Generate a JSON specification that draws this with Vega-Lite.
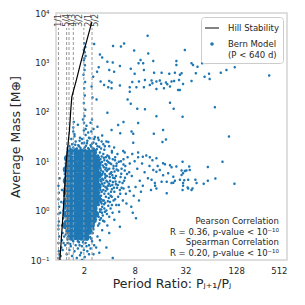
{
 "$schema": "https://vega.github.io/schema/vega-lite/v6.json",
 "width": 231, "height": 247,
 "autosize": {"type": "none"},
 "padding": {"left": 56, "top": 13, "right": 18, "bottom": 45},
 "config": {
  "font": "DejaVu Sans",
  "view": {"stroke": "#d4d4d4", "strokeWidth": 1.5},
  "axis": {"domain": false, "ticks": false, "grid": false, "labelFontSize": 8.5, "labelColor": "#262626", "titleFontSize": 12.5, "titleFontWeight": "normal", "titleColor": "#262626"},
  "legend": {"title": null, "orient": "top-right", "offset": 4, "fillColor": "#ffffff", "strokeColor": "#cccccc", "cornerRadius": 3, "padding": 4,
        "labelFontSize": 8.5, "labelColor": "#262626", "labelOffset": 9, "rowPadding": 4, "labelLimit": 200, "symbolSize": 196, "symbolStrokeWidth": 0, "symbolOpacity": 1}
 },
 "datasets": {
  "pts": [
   {"p":2.65,"m":2350},{"p":4.44,"m":2140},{"p":5.5,"m":2100},{"p":6.0,"m":2400},{"p":11.4,"m":3470},{"p":7.9,"m":1740},{"p":11.6,"m":1510},{"p":3.1,"m":1440},{"p":3.3,"m":1250},{"p":3.8,"m":1030},{"p":4.4,"m":1000},{"p":5.35,"m":850},{"p":9.4,"m":1120},{"p":8.9,"m":960},{"p":10.1,"m":960},{"p":25,"m":1070},{"p":25,"m":890},{"p":3.0,"m":800},{"p":4.0,"m":700},{"p":4.57,"m":650},{"p":7.2,"m":740},{"p":8.0,"m":590},{"p":10.3,"m":700},{"p":13.6,"m":615},{"p":16.7,"m":615},{"p":20.6,"m":590},{"p":24,"m":615},{"p":27.5,"m":560},{"p":2.87,"m":650},{"p":2.58,"m":510},{"p":3.16,"m":410},{"p":3.48,"m":350},{"p":4.0,"m":420},{"p":4.26,"m":390},{"p":3.89,"m":315},{"p":4.26,"m":300},{"p":5.35,"m":340},{"p":7.5,"m":400},{"p":9.0,"m":410},{"p":10.6,"m":440},{"p":12.7,"m":430},{"p":14.5,"m":410},{"p":15.9,"m":430},{"p":18.8,"m":390},{"p":21.9,"m":410},{"p":26.9,"m":440},{"p":7.0,"m":315},{"p":8.4,"m":315},{"p":10.3,"m":315},{"p":12.1,"m":350},{"p":14.5,"m":290},{"p":21,"m":325},{"p":26.2,"m":275},{"p":7,"m":255},{"p":2.47,"m":325},{"p":2.53,"m":195},{"p":2.83,"m":178},{"p":6.6,"m":178},{"p":7.2,"m":145},{"p":8.6,"m":115},{"p":10.6,"m":112},{"p":21,"m":152},{"p":23.2,"m":115},
   {"p":31.5,"m":1780},{"p":37.8,"m":960},{"p":39.4,"m":890},{"p":44.5,"m":820},{"p":50.6,"m":960},{"p":42.5,"m":605},{"p":54,"m":510},{"p":61,"m":590},{"p":62,"m":460},{"p":84,"m":615},{"p":98,"m":700},{"p":123,"m":800},{"p":315,"m":540},{"p":28.8,"m":605},{"p":30,"m":365},{"p":37.8,"m":420},{"p":27.5,"m":275},{"p":71.5,"m":123},
   {"p":13.3,"m":1070},{"p":13,"m":380},{"p":16.5,"m":370},{"p":19.5,"m":360},{"p":23.5,"m":420},{"p":17.8,"m":300},
   {"p":2.02,"m":2450},{"p":2.08,"m":2040},{"p":2.0,"m":1800},{"p":2.05,"m":1600},{"p":2.1,"m":1350},{"p":2.03,"m":1200},{"p":2.0,"m":1100},{"p":2.06,"m":880},{"p":2.04,"m":700},{"p":1.98,"m":560},{"p":2.07,"m":400},{"p":2.02,"m":300},{"p":2.05,"m":215},{"p":2.0,"m":150},{"p":2.08,"m":110},{"p":2.04,"m":82},{"p":2.01,"m":60},{"p":2.1,"m":45},{"p":1.52,"m":62},{"p":1.5,"m":48},{"p":1.55,"m":35},{"p":2.5,"m":70},{"p":2.45,"m":40},{"p":2.3,"m":30},{"p":1.9,"m":28},
   {"p":3.8,"m":96},{"p":14.5,"m":81},{"p":5.9,"m":62},{"p":5.1,"m":54},{"p":8.8,"m":59},{"p":4.26,"m":43},{"p":5.4,"m":37},{"p":7.35,"m":40},{"p":7.7,"m":36},{"p":13.5,"m":36},{"p":17.4,"m":43},{"p":17.1,"m":24.5},{"p":18.8,"m":27.5},{"p":7.7,"m":23.5},{"p":3.9,"m":24.5},{"p":4.57,"m":19},{"p":5.86,"m":16},{"p":6.1,"m":15},{"p":8.8,"m":15},{"p":10,"m":12.3},{"p":12.1,"m":12},{"p":14.5,"m":11.5},{"p":18.3,"m":8.7},{"p":21,"m":8.3},{"p":25,"m":7.8},{"p":28.8,"m":6.5},{"p":32.9,"m":6.5},{"p":34.5,"m":4.2},{"p":27.5,"m":4.2},{"p":23,"m":3.65},
   {"p":29.6,"m":79},{"p":105,"m":31.6},{"p":29.6,"m":9.8},{"p":88,"m":9.8},{"p":35.5,"m":7.8},{"p":59,"m":7.6},{"p":31.5,"m":6.3},{"p":36,"m":6.6},{"p":28.8,"m":5.25},{"p":31,"m":4.1},{"p":42,"m":4.2},{"p":59,"m":4.0},{"p":72.5,"m":4.45},{"p":52.7,"m":3.5},{"p":122,"m":3.5},{"p":30,"m":3.2},{"p":34,"m":2.95},{"p":38.8,"m":2.8},
   {"p":17.4,"m":9.1},{"p":21.9,"m":7.5},{"p":13.3,"m":6.6},{"p":14.5,"m":6.1},{"p":15.9,"m":6.6},{"p":17.4,"m":5.2},{"p":20,"m":5.7},{"p":23,"m":4.85},{"p":12.7,"m":4.2},{"p":13.9,"m":3.6},{"p":16.7,"m":3.85},{"p":19.2,"m":3.85},{"p":21.9,"m":3.6},{"p":24,"m":4.0},{"p":14.5,"m":2.8},{"p":19.2,"m":2.24},{"p":30,"m":5.7},{"p":30,"m":3.6},{"p":34.5,"m":2.8},{"p":37.8,"m":2.6},{"p":29.6,"m":2.6},{"p":43.4,"m":3.6},
   {"p":1.45,"m":22},{"p":1.6,"m":25},{"p":1.75,"m":20},{"p":1.9,"m":23},{"p":2.05,"m":19},{"p":2.2,"m":26},{"p":2.4,"m":21},{"p":2.6,"m":24},{"p":2.9,"m":20},{"p":3.2,"m":18},{"p":1.55,"m":32},{"p":1.8,"m":30},{"p":2.1,"m":34},{"p":2.35,"m":29},{"p":2.7,"m":31},{"p":3.0,"m":27},{"p":3.4,"m":22},{"p":3.7,"m":25},{"p":1.5,"m":40},{"p":2.0,"m":42},{"p":2.25,"m":38},{"p":2.6,"m":45},{"p":3.3,"m":33},{"p":1.7,"m":55},{"p":2.15,"m":52},{"p":2.9,"m":50},{"p":1.95,"m":70},{"p":2.4,"m":60},{"p":3.5,"m":17},{"p":4.0,"m":20},{"p":4.3,"m":16},{"p":1.38,"m":18},{"p":1.3,"m":16},{"p":1.42,"m":28},{"p":2.55,"m":18},{"p":2.75,"m":16.5},{"p":3.1,"m":15},{"p":1.65,"m":18},{"p":1.85,"m":17},{"p":2.3,"m":17.5},
   {"p":1.4,"m":17},{"p":1.5,"m":19},{"p":1.62,"m":17.5},{"p":1.72,"m":21},{"p":1.82,"m":18.8},{"p":1.98,"m":17.2},{"p":2.12,"m":20.5},{"p":2.25,"m":18.2},{"p":2.45,"m":19.5},{"p":2.62,"m":17.8},{"p":2.85,"m":17.5},{"p":1.58,"m":21.5},{"p":2.02,"m":23.5},{"p":2.5,"m":22.5},{"p":1.35,"m":20},{"p":1.78,"m":26},{"p":2.18,"m":23},
   {"p":2.8,"m":22.5},{"p":3.05,"m":19.5},{"p":3.25,"m":25},{"p":2.95,"m":30},{"p":3.55,"m":20},{"p":2.65,"m":28},
   {"p":3.0,"m":12},{"p":3.1,"m":9},{"p":3.2,"m":6.5},{"p":3.05,"m":4.8},{"p":3.3,"m":3.5},{"p":3.15,"m":2.6},{"p":3.0,"m":1.9},{"p":3.25,"m":1.4},{"p":3.1,"m":1.05},{"p":3.35,"m":0.8},{"p":3.4,"m":14},{"p":3.5,"m":10.5},{"p":3.45,"m":7.5},{"p":3.55,"m":5.5},{"p":3.4,"m":4.2},{"p":3.6,"m":3.0},{"p":3.5,"m":2.2},{"p":3.45,"m":1.6},{"p":3.3,"m":1.2},{"p":3.55,"m":0.95},{"p":3.2,"m":0.7},{"p":3.05,"m":0.55},{"p":3.15,"m":11},{"p":3.35,"m":8.2},{"p":3.25,"m":5.2},{"p":3.6,"m":6.8},{"p":3.0,"m":3.1},{"p":3.4,"m":2.6},{"p":3.2,"m":1.7},{"p":3.0,"m":7.5},
   {"p":3.02,"m":10.5},{"p":3.12,"m":5.8},{"p":3.05,"m":2.3},{"p":3.18,"m":1.5},{"p":3.0,"m":0.75},{"p":3.28,"m":9.6},{"p":3.38,"m":6.1},{"p":3.22,"m":3.9},{"p":3.42,"m":3.2},{"p":3.26,"m":2.4},{"p":3.48,"m":1.35},{"p":3.12,"m":0.95},{"p":3.58,"m":4.6},{"p":3.62,"m":2.5},{"p":3.68,"m":7.4},{"p":3.78,"m":10.2},{"p":3.82,"m":3.8},{"p":3.92,"m":2.2},{"p":3.88,"m":6.8},{"p":4.02,"m":11.5},{"p":4.12,"m":3.2},{"p":4.22,"m":8.8},{"p":4.08,"m":1.5},{"p":4.35,"m":5.2},{"p":4.55,"m":2.9},{"p":4.62,"m":6.2},{"p":4.75,"m":3.9},{"p":4.85,"m":8},{"p":4.3,"m":2.7},{"p":4.05,"m":4.8},
   {"p":3.05,"m":8.3},{"p":3.15,"m":4.2},{"p":3.08,"m":1.6},{"p":3.22,"m":1.05},{"p":3.32,"m":5.6},{"p":3.45,"m":11.8},{"p":3.52,"m":3.6},{"p":3.38,"m":0.62},{"p":3.28,"m":0.9},{"p":3.58,"m":1.45},
   {"p":3.62,"m":5.1},{"p":3.72,"m":2.9},{"p":3.85,"m":1.55},{"p":3.98,"m":3.5},{"p":4.05,"m":9.2},{"p":4.18,"m":5.8},{"p":4.28,"m":1.9},{"p":4.42,"m":3.8},{"p":4.48,"m":7.1},{"p":3.95,"m":12.5},{"p":4.15,"m":1.1},{"p":3.75,"m":0.85},{"p":4.38,"m":0.9},
   {"p":4.65,"m":4.5},{"p":4.9,"m":6.8},{"p":5.05,"m":3.3},{"p":5.2,"m":9.8},{"p":5.35,"m":2.6},{"p":5.55,"m":5.6},{"p":5.75,"m":3.6},{"p":4.85,"m":1.3},{"p":5.25,"m":0.95},{"p":5.9,"m":8.6},{"p":6.15,"m":4.6},{"p":4.68,"m":10.5},
   {"p":3.8,"m":13},{"p":3.9,"m":9.5},{"p":4.0,"m":7},{"p":3.75,"m":5},{"p":4.1,"m":4},{"p":3.85,"m":3.2},{"p":4.2,"m":2.4},{"p":3.95,"m":1.8},{"p":4.3,"m":1.3},{"p":3.7,"m":1.0},{"p":4.0,"m":0.75},{"p":4.4,"m":11},{"p":4.5,"m":8},{"p":4.25,"m":6},{"p":4.45,"m":4.6},{"p":4.35,"m":3.3},{"p":4.15,"m":2.0},{"p":4.5,"m":1.6},{"p":3.8,"m":2.7},{"p":4.05,"m":5.5},{"p":3.7,"m":8.5},{"p":4.3,"m":15},{"p":3.9,"m":1.25},
   {"p":4.7,"m":12},{"p":4.9,"m":9},{"p":5.1,"m":6.5},{"p":4.8,"m":5},{"p":5.3,"m":3.8},{"p":4.95,"m":2.9},{"p":5.4,"m":2.2},{"p":4.7,"m":1.7},{"p":5.2,"m":1.3},{"p":5.5,"m":10},{"p":5.6,"m":7},{"p":5.0,"m":14},{"p":5.45,"m":4.8},{"p":4.8,"m":3.4},{"p":5.1,"m":1.9},{"p":4.6,"m":2.4},{"p":5.6,"m":2.9},
   {"p":5.9,"m":11},{"p":6.2,"m":8},{"p":6.5,"m":5.5},{"p":6.0,"m":4},{"p":6.8,"m":3},{"p":6.3,"m":2.2},{"p":5.8,"m":1.6},{"p":6.6,"m":12},{"p":7.0,"m":9},{"p":6.1,"m":6.5},{"p":6.9,"m":6},{"p":6.4,"m":1.4},{"p":7.0,"m":2.5},{"p":5.9,"m":2.8},
   {"p":7.5,"m":14},{"p":8,"m":10},{"p":8.6,"m":7},{"p":7.4,"m":5},{"p":9.2,"m":4},{"p":8.2,"m":3},{"p":7.8,"m":2},{"p":9.8,"m":9},{"p":10.5,"m":6},{"p":11,"m":13},{"p":9,"m":1.6},{"p":7.3,"m":1.2},{"p":8.8,"m":12},{"p":10,"m":3.2},{"p":11.5,"m":4.5},{"p":12,"m":8},{"p":9.5,"m":2.4},{"p":7.6,"m":0.9},{"p":8.3,"m":0.7},
   {"p":12.5,"m":2.6},{"p":13,"m":10.5},{"p":15,"m":8},{"p":14,"m":3.2},
   {"p":2.95,"m":13},{"p":2.9,"m":9.5},{"p":3.0,"m":6},{"p":2.95,"m":3.8},{"p":2.9,"m":2.2},{"p":3.0,"m":1.3},{"p":2.9,"m":0.9},{"p":3.1,"m":0.65},{"p":3.25,"m":12.5},{"p":3.15,"m":7.2},{"p":3.3,"m":4.4},{"p":3.1,"m":3.3},{"p":3.2,"m":2.0},{"p":3.35,"m":1.6},{"p":3.5,"m":1.1},{"p":3.65,"m":12},{"p":3.7,"m":4.0},{"p":3.65,"m":1.9},{"p":3.75,"m":6.3},{"p":3.6,"m":8.8},
   {"p":4.4,"m":0.11},{"p":3.7,"m":0.18},{"p":4.0,"m":0.35},{"p":3.1,"m":0.25},{"p":5.35,"m":0.47},{"p":3.3,"m":0.4},{"p":2.9,"m":0.3},{"p":3.5,"m":0.6},{"p":2.95,"m":0.5},{"p":4.6,"m":0.65},{"p":3.8,"m":0.5},{"p":2.8,"m":0.18},{"p":3.05,"m":0.14},
   {"p":1.0,"m":0.11},{"p":1.01,"m":0.15},{"p":1.0,"m":0.22},{"p":1.02,"m":0.3},{"p":1.0,"m":0.42},{"p":1.01,"m":0.6},{"p":1.0,"m":0.85},{"p":1.02,"m":1.2},{"p":1.0,"m":1.7},{"p":1.01,"m":2.3},{"p":1.0,"m":3.2},{"p":1.03,"m":4.5},{"p":1.01,"m":0.13},{"p":1.0,"m":0.5},
   {"p":1.06,"m":0.12},{"p":1.08,"m":0.18},{"p":1.1,"m":0.25},{"p":1.12,"m":0.35},{"p":1.1,"m":0.5},{"p":1.14,"m":0.7},{"p":1.15,"m":1.0},{"p":1.16,"m":1.4},{"p":1.17,"m":2.0},{"p":1.18,"m":2.8},{"p":1.2,"m":4},{"p":1.19,"m":5.5},{"p":1.21,"m":7},{"p":1.22,"m":9},{"p":1.12,"m":0.16},{"p":1.15,"m":0.22},{"p":1.17,"m":0.3},{"p":1.18,"m":0.45},{"p":1.2,"m":0.6},{"p":1.19,"m":0.8},{"p":1.2,"m":1.2},{"p":1.21,"m":1.7},{"p":1.22,"m":2.4},{"p":1.23,"m":3.5},{"p":1.25,"m":12},{"p":1.27,"m":14},{"p":1.05,"m":0.9},{"p":1.08,"m":1.5},{"p":1.1,"m":2.6},
   {"p":1.18,"m":1.1},{"p":1.2,"m":1.6},{"p":1.19,"m":2.2},{"p":1.21,"m":3.2},{"p":1.2,"m":4.6},{"p":1.22,"m":6.2},{"p":1.16,"m":0.55},{"p":1.18,"m":0.85},{"p":1.23,"m":8.2},{"p":1.24,"m":10.5},
   {"p":1.2,"m":0.2},{"p":1.3,"m":0.22},{"p":1.4,"m":0.19},{"p":1.5,"m":0.24},{"p":1.6,"m":0.2},{"p":1.75,"m":0.23},{"p":1.9,"m":0.19},{"p":2.1,"m":0.22},{"p":2.3,"m":0.2},{"p":2.5,"m":0.24},{"p":1.35,"m":0.16},{"p":1.55,"m":0.15},{"p":1.7,"m":0.17},{"p":1.85,"m":0.14},{"p":2.0,"m":0.16},{"p":2.2,"m":0.15},{"p":2.4,"m":0.17},{"p":2.65,"m":0.2},{"p":1.25,"m":0.13},{"p":1.45,"m":0.12},{"p":1.65,"m":0.11},{"p":1.8,"m":0.125},{"p":2.05,"m":0.115},{"p":2.3,"m":0.13},{"p":1.28,"m":0.26},{"p":1.6,"m":0.27},{"p":2.0,"m":0.26},{"p":2.45,"m":0.27},{"p":1.9,"m":0.1},{"p":2.6,"m":0.13},
   {"p":1.3,"m":0.3},{"p":1.48,"m":0.25},{"p":1.7,"m":0.24},{"p":1.95,"m":0.23},{"p":2.2,"m":0.26},{"p":2.38,"m":0.29},{"p":2.55,"m":0.35},{"p":2.6,"m":0.42},{"p":2.62,"m":0.55},{"p":1.22,"m":0.33},{"p":1.25,"m":0.42},{"p":1.38,"m":0.21},{"p":1.78,"m":0.2},{"p":2.15,"m":0.19}
  ],
  "core": [
   {"p":1.36,"m":15},{"p":1.55,"m":15.5},{"p":1.76,"m":14.8},{"p":2.02,"m":15.2},{"p":2.32,"m":14.6},{"p":2.6,"m":15},
   {"p":1.28,"m":11.5},{"p":1.43,"m":11.2},{"p":1.64,"m":11.7},{"p":1.88,"m":11.4},{"p":2.16,"m":11.6},{"p":2.48,"m":11.3},{"p":2.8,"m":11.5},
   {"p":1.33,"m":8.8},{"p":1.53,"m":8.9},{"p":1.76,"m":8.7},{"p":2.02,"m":8.8},{"p":2.32,"m":9.0},{"p":2.64,"m":8.7},{"p":2.95,"m":8.8},
   {"p":1.24,"m":6.8},{"p":1.43,"m":6.7},{"p":1.64,"m":6.9},{"p":1.88,"m":6.8},{"p":2.16,"m":6.7},{"p":2.48,"m":6.9},{"p":2.8,"m":6.8},
   {"p":1.33,"m":5.2},{"p":1.53,"m":5.3},{"p":1.76,"m":5.1},{"p":2.02,"m":5.2},{"p":2.32,"m":5.3},{"p":2.64,"m":5.1},{"p":2.95,"m":5.2},
   {"p":1.24,"m":4.0},{"p":1.43,"m":4.1},{"p":1.64,"m":3.95},{"p":1.88,"m":4.0},{"p":2.16,"m":4.05},{"p":2.48,"m":3.95},{"p":2.8,"m":4.0},
   {"p":1.33,"m":3.1},{"p":1.53,"m":3.05},{"p":1.76,"m":3.15},{"p":2.02,"m":3.1},{"p":2.32,"m":3.05},{"p":2.64,"m":3.15},{"p":2.95,"m":3.1},
   {"p":1.24,"m":2.4},{"p":1.43,"m":2.42},{"p":1.64,"m":2.38},{"p":1.88,"m":2.4},{"p":2.16,"m":2.43},{"p":2.48,"m":2.37},{"p":2.8,"m":2.4},
   {"p":1.33,"m":1.85},{"p":1.53,"m":1.83},{"p":1.76,"m":1.87},{"p":2.02,"m":1.85},{"p":2.32,"m":1.84},{"p":2.64,"m":1.86},{"p":2.9,"m":1.85},
   {"p":1.24,"m":1.42},{"p":1.43,"m":1.43},{"p":1.64,"m":1.41},{"p":1.88,"m":1.42},{"p":2.16,"m":1.44},{"p":2.48,"m":1.41},{"p":2.8,"m":1.42},
   {"p":1.33,"m":1.1},{"p":1.53,"m":1.11},{"p":1.76,"m":1.09},{"p":2.02,"m":1.1},{"p":2.32,"m":1.12},{"p":2.64,"m":1.1},
   {"p":1.24,"m":0.84},{"p":1.43,"m":0.85},{"p":1.64,"m":0.83},{"p":1.88,"m":0.84},{"p":2.16,"m":0.85},{"p":2.48,"m":0.83},{"p":2.75,"m":0.84},
   {"p":1.33,"m":0.65},{"p":1.53,"m":0.66},{"p":1.76,"m":0.64},{"p":2.02,"m":0.65},{"p":2.32,"m":0.66},{"p":2.6,"m":0.65},
   {"p":1.24,"m":0.5},{"p":1.43,"m":0.51},{"p":1.64,"m":0.49},{"p":1.88,"m":0.5},{"p":2.16,"m":0.51},{"p":2.45,"m":0.5},
   {"p":1.33,"m":0.38},{"p":1.53,"m":0.385},{"p":1.76,"m":0.375},{"p":2.02,"m":0.38},{"p":2.3,"m":0.38},
   {"p":1.43,"m":0.29},{"p":1.64,"m":0.295},{"p":1.88,"m":0.29},{"p":2.12,"m":0.29}
  ],
  "res": [
   {"r":1,"lab":"1/1","lx":1.02},{"r":1.25,"lab":"5/4","lx":1.26},{"r":1.3333,"lab":"4/3","lx":1.48},{"r":1.5,"lab":"3/2","lx":1.81},{"r":2,"lab":"2/1","lx":2.31},{"r":2.5,"lab":"5/2","lx":2.8}
  ],
  "hill": [
   {"p":1.04,"m":0.1},{"p":1.14,"m":1},{"p":1.24,"m":10.5},{"p":1.35,"m":42},{"p":1.40,"m":110},{"p":1.44,"m":200},{"p":1.63,"m":437},{"p":1.84,"m":1000},{"p":2.17,"m":2800},{"p":2.49,"m":6600}
  ]
 },
 "layer": [
  {
   "data": {"name": "pts"},
   "mark": {"type": "point", "filled": true, "size": 100, "opacity": 1, "strokeWidth": 0, "clip": true},
   "encoding": {
    "x": {"field": "p", "type": "quantitative", "scale": {"type": "log", "base": 2, "domain": [0.935, 512], "nice": false},
          "axis": {"values": [2, 8, 32, 128, 512], "format": "d", "title": "Period Ratio: Pⱼ₊₁/Pⱼ", "labelPadding": 6, "titlePadding": 3}},
    "y": {"field": "m", "type": "quantitative", "scale": {"type": "log", "domain": [0.1, 10000], "nice": false},
          "axis": {"values": [0.1, 1, 10, 100, 1000, 10000], "labelExpr": "datum.value >= 9999 ? '10⁴' : datum.value >= 999 ? '10³' : datum.value >= 99 ? '10²' : datum.value >= 9 ? '10¹' : datum.value >= 0.9 ? '10⁰' : '10⁻¹'", "title": "Average Mass [M⊕]", "labelPadding": 7, "titlePadding": 8}},
    "color": {"datum": "Bern Model", "type": "nominal",
      "scale": {"domain": ["Hill Stability", "Bern Model"], "range": ["#000000", "#1f77b4"]},
      "legend": {"labelExpr": "datum.label == 'Bern Model' ? ['Bern Model', '(P < 640 d)'] : datum.label"}},
    "shape": {"datum": "Bern Model", "type": "nominal",
      "scale": {"domain": ["Hill Stability", "Bern Model"], "range": ["M-1,-0.07L1,-0.07L1,0.07L-1,0.07Z", "M0.25,0A0.25,0.25 0 1,1 -0.25,0A0.25,0.25 0 1,1 0.25,0Z"]},
      "legend": {"labelExpr": "datum.label == 'Bern Model' ? ['Bern Model', '(P < 640 d)'] : datum.label"}}
   }
  },
  {
   "data": {"name": "core"},
   "mark": {"type": "circle", "size": 50, "opacity": 1, "color": "#1f77b4", "clip": true},
   "encoding": {"x": {"field": "p", "type": "quantitative"}, "y": {"field": "m", "type": "quantitative"}}
  },
  {
   "data": {"name": "res"},
   "mark": {"type": "rule", "strokeDash": [3, 2], "color": "#999999", "strokeWidth": 1},
   "encoding": {"x": {"field": "r", "type": "quantitative"}, "y": {"datum": 0.1}, "y2": {"datum": 5000}}
  },
  {
   "data": {"name": "res"},
   "mark": {"type": "text", "angle": 270, "align": "right", "baseline": "middle", "fontSize": 8, "color": "#444444"},
   "encoding": {"x": {"field": "lx", "type": "quantitative"}, "y": {"datum": 9550}, "text": {"field": "lab"}}
  },
  {
   "data": {"name": "hill"},
   "mark": {"type": "line", "strokeWidth": 1.2, "color": "#000000"},
   "encoding": {"x": {"field": "p", "type": "quantitative"}, "y": {"field": "m", "type": "quantitative"}, "order": {"field": "m", "type": "quantitative"}}
  },
  {
   "data": {"values": [{}]},
   "mark": {"type": "text", "align": "right", "baseline": "middle", "fontSize": 8.5, "lineHeight": 10.7, "color": "#262626",
     "text": ["Pearson Correlation", "R = 0.36, p-value < 10⁻¹⁰", "Spearman Correlation", "R = 0.20, p-value < 10⁻¹⁰"]},
   "encoding": {"x": {"datum": 410}, "y": {"datum": 0.616}}
  }
 ]
}
